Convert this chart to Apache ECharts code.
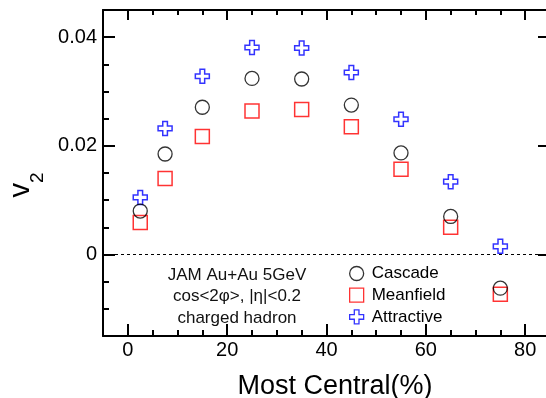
<!DOCTYPE html>
<html>
<head>
<meta charset="utf-8">
<script src="https://cdn.jsdelivr.net/npm/echarts@6/dist/echarts.min.js"></script>
<style>
  html, body { margin: 0; padding: 0; background: #fff; }
  #chart { width: 546px; height: 398px; }
</style>
</head>
<body>
<div id="chart"></div>
<script>
// centrality bins (%)
const centrality = [2.5, 7.5, 15, 25, 35, 45, 55, 65, 75];
// v2 values per model
const cascade = [0.0080, 0.0185, 0.0271, 0.0324, 0.0323, 0.0275, 0.0187, 0.0070, -0.0062];
const meanfield = [0.0059, 0.0140, 0.0217, 0.0264, 0.0267, 0.0235, 0.0157, 0.0050, -0.0073];
const attractive = [0.0105, 0.0232, 0.0328, 0.0381, 0.0380, 0.0335, 0.0249, 0.0134, 0.0015];

// tick labels / major ticks
const xLabels = [0, 20, 40, 60, 80];
const yLabels = [0, 0.02, 0.04];

const FONT = "'Liberation Sans', Arial, sans-serif";
const crossPath = "path://M1,0 L2,0 L2,1 L3,1 L3,2 L2,2 L2,3 L1,3 L1,2 L0,2 L0,1 L1,1 Z";

const chart = echarts.init(document.getElementById("chart"));

const pairs = (ys) => centrality.map((x, i) => [x, ys[i]]);

// shared axis bits
const xBase = { type: "value", min: -5, max: 85, interval: 5, splitLine: { show: false } };
const yBase = { type: "value", min: -0.015, max: 0.045, interval: 0.005, splitLine: { show: false } };
const line = { show: true, onZero: false, lineStyle: { color: "#000", width: 2 } };
const noLine = { show: false, onZero: false };

chart.setOption({
  animation: false,
  grid: { left: 103, top: 10, width: 447, bottom: 62, outerBoundsMode: "none" },
  xAxis: [
    {
      ...xBase,
      position: "bottom",
      axisLine: line,
      axisTick: { inside: true, length: 6, lineStyle: { color: "#000", width: 2 } },
      axisLabel: { customValues: xLabels, margin: 4, color: "#000", fontSize: 20, fontFamily: FONT },
      name: "Most Central(%)",
      nameLocation: "middle",
      nameGap: 37,
      nameTextStyle: { color: "#000", fontSize: 27, fontFamily: FONT, padding: [0, 0, 0, 17] },
    },
    {
      ...xBase,
      position: "bottom",
      axisLine: noLine,
      axisTick: { inside: true, length: 12, customValues: xLabels, lineStyle: { color: "#000", width: 2 } },
      axisLabel: { show: false },
    },
    {
      ...xBase,
      position: "top",
      axisLine: line,
      axisTick: { inside: true, length: 5, lineStyle: { color: "#000", width: 2 } },
      axisLabel: { show: false },
    },
    {
      ...xBase,
      position: "top",
      axisLine: noLine,
      axisTick: { inside: true, length: 10, customValues: xLabels, lineStyle: { color: "#000", width: 2 } },
      axisLabel: { show: false },
    },
  ],
  yAxis: [
    {
      ...yBase,
      position: "left",
      axisLine: line,
      axisTick: { inside: true, length: 6, lineStyle: { color: "#000", width: 2 } },
      axisLabel: {
        customValues: yLabels,
        margin: 6,
        color: "#000",
        fontSize: 20,
        fontFamily: FONT,
        formatter: (v) => (v === 0 ? "0" : v.toFixed(2)),
      },
      name: "{v|v}{s|2}",
      nameLocation: "middle",
      nameRotate: 90,
      nameGap: 59,
      nameTextStyle: {
        color: "#000",
        fontFamily: FONT,
        padding: [0, 24, 0, 0],
        rich: {
          v: { fontSize: 29, lineHeight: 29, verticalAlign: "top", fontFamily: FONT, color: "#000" },
          s: { fontSize: 19, lineHeight: 19, verticalAlign: "top", padding: [22, 0, 0, 0], fontFamily: FONT, color: "#000" },
        },
      },
    },
    {
      ...yBase,
      position: "left",
      axisLine: noLine,
      axisTick: { inside: true, length: 12, customValues: yLabels, lineStyle: { color: "#000", width: 2 } },
      axisLabel: { show: false },
    },
    {
      ...yBase,
      position: "right",
      axisLine: line,
      axisTick: { inside: true, length: 4, lineStyle: { color: "#000", width: 2 } },
      axisLabel: { show: false },
    },
    {
      ...yBase,
      position: "right",
      axisLine: noLine,
      axisTick: { inside: true, length: 12, customValues: yLabels, lineStyle: { color: "#000", width: 2 } },
      axisLabel: { show: false },
    },
  ],
  legend: {
    orient: "vertical",
    left: 349,
    top: 265,
    padding: 0,
    itemWidth: 14,
    itemHeight: 14,
    itemGap: 4.7,
    itemStyle: { borderWidth: 1.3 },
    textStyle: { color: "#000", fontSize: 17, lineHeight: 17, fontFamily: FONT, padding: [0, 0, 0, 3] },
    data: ["Cascade", "Meanfield", "Attractive"],
  },
  graphic: [
    {
      type: "text",
      x: 237,
      y: 264,
      style: {
        text: "JAM Au+Au 5GeV\ncos<2\u03c6>, |\u03b7|<0.2\ncharged hadron",
        align: "center",
        fontSize: 17,
        lineHeight: 21.7,
        fontFamily: FONT,
        fill: "#111",
      },
    },
  ],
  series: [
    {
      name: "Cascade",
      type: "scatter",
      symbol: "circle",
      symbolSize: 14,
      data: pairs(cascade),
      itemStyle: { color: "rgba(0,0,0,0)", borderColor: "#000", borderWidth: 1.3 },
      z: 4,
      markLine: {
        silent: true,
        symbol: "none",
        label: { show: false },
        lineStyle: { color: "#000", width: 1, type: [3, 3] },
        data: [{ yAxis: 0 }],
        z: 1,
      },
    },
    {
      name: "Meanfield",
      type: "scatter",
      symbol: "rect",
      symbolSize: 14,
      data: pairs(meanfield),
      itemStyle: { color: "rgba(0,0,0,0)", borderColor: "#ff0000", borderWidth: 1.5 },
      z: 3,
    },
    {
      name: "Attractive",
      type: "scatter",
      symbol: crossPath,
      symbolSize: 14,
      data: pairs(attractive),
      itemStyle: { color: "rgba(0,0,0,0)", borderColor: "#0000ff", borderWidth: 1.5 },
      z: 3,
    },
  ],
});
</script>
</body>
</html>
